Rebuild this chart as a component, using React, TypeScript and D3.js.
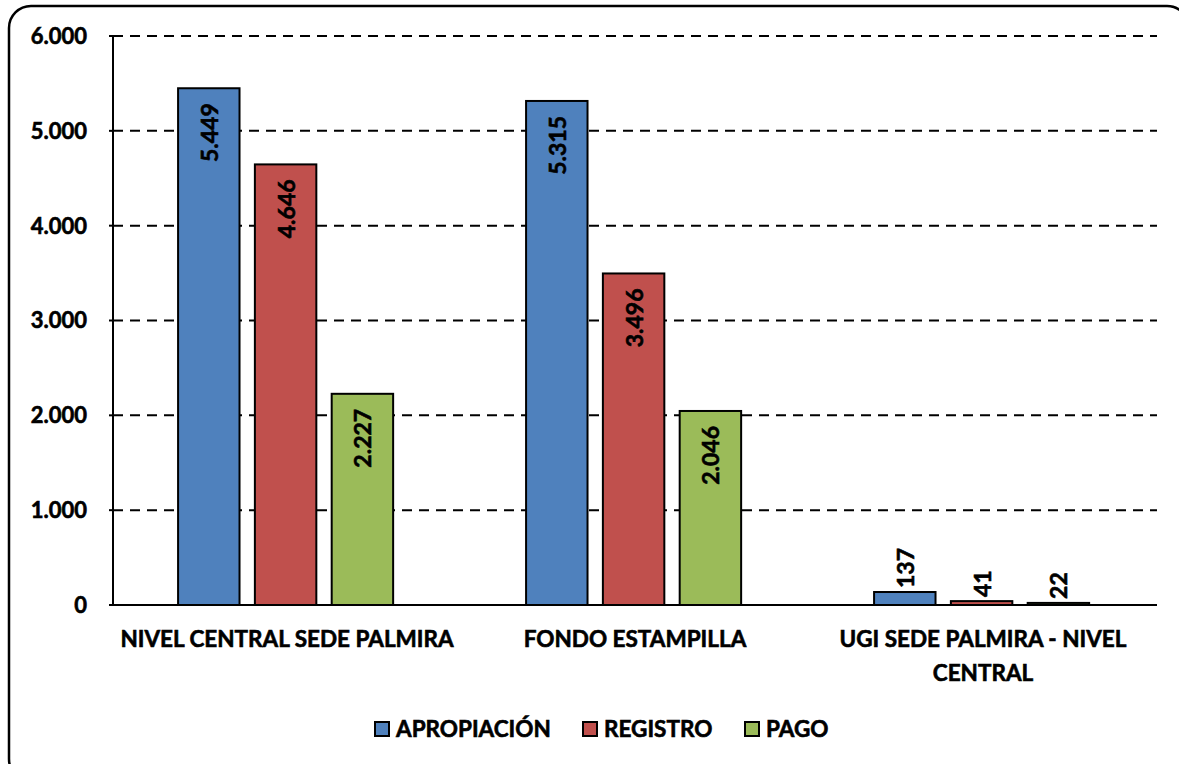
import React from "react";
import * as d3 from "d3";

const categories = ["NIVEL CENTRAL SEDE PALMIRA", "FONDO ESTAMPILLA", "UGI SEDE PALMIRA - NIVEL CENTRAL"];
const categoryLines = [["NIVEL CENTRAL SEDE PALMIRA"], ["FONDO ESTAMPILLA"], ["UGI SEDE PALMIRA - NIVEL", "CENTRAL"]];
const seriesNames = ["APROPIACIÓN", "REGISTRO", "PAGO"];
const apropiacion = [5449, 5315, 137];
const registro = [4646, 3496, 41];
const pago = [2227, 2046, 22];
const seriesValues = [apropiacion, registro, pago];
const seriesColors = ["#4F81BD", "#C0504D", "#9BBB59"];
const yTicks = [0, 1000, 2000, 3000, 4000, 5000, 6000];

const W = 1179;
const H = 764;
const left = 113;
const right = 1157;
const top = 36;
const bottom = 605;
const FONT = "Lato, 'Open Sans', sans-serif";
const FW = 700;
const TS = 0.6;

const fmt = (v: number) => d3.format(",")(v).replace(/,/g, ".");

export default function App() {
  const y = d3.scaleLinear().domain([0, 6000]).range([bottom, top]);
  const x0 = d3.scaleBand<string>().domain(categories).range([left, right]).paddingInner(0).paddingOuter(0);
  const bw = x0.bandwidth();
  const x1 = d3
    .scaleBand<string>()
    .domain(seriesNames)
    .range([bw * 0.187, bw * 0.805])
    .paddingInner(0.2)
    .paddingOuter(0);

  const legendX = [375, 583, 745];

  return (
    <svg
      width={W}
      height={H}
      style={{ position: "fixed", left: 0, top: 0, background: "#fff" }}
      fontFamily={FONT}
    >
      <rect x={0} y={0} width={W} height={H} fill="#fff" />
      <rect x={9} y={6} width={1180} height={775} rx={22} ry={22} fill="#fff" stroke="#000" strokeWidth={2.5} />

      {/* gridlines */}
      {yTicks.filter((t) => t > 0).map((t) => (
        <line key={t} x1={left} x2={right} y1={y(t)} y2={y(t)} stroke="#000" strokeWidth={2} strokeDasharray="10,7" />
      ))}
      {/* y ticks & labels */}
      {yTicks.map((t) => (
        <g key={"t" + t}>
          <line x1={left - 4} x2={left} y1={y(t)} y2={y(t)} stroke="#000" strokeWidth={2} />
          <text x={87} y={y(t)} dy="0.36em" textAnchor="end" fontWeight={FW} fontSize={22} fill="#000" stroke="#000" strokeWidth={TS}>
            {fmt(t)}
          </text>
        </g>
      ))}

      {/* bars */}
      {categories.map((c, ci) => (
        <g key={c} transform={`translate(${x0(c)},0)`}>
          {seriesNames.map((s, si) => {
            const v = seriesValues[si][ci];
            const bx = x1(s)!;
            const w = x1.bandwidth();
            const yt = y(v);
            const cx = bx + w / 2;
            const inside = v > 500;
            return (
              <g key={s}>
                <rect x={bx} y={yt} width={w} height={bottom - yt} fill={seriesColors[si]} stroke="#000" strokeWidth={2} />
                <text
                  transform={`translate(${cx},${inside ? yt + 15 : yt - 4}) rotate(-90)`}
                  textAnchor={inside ? "end" : "start"}
                  dominantBaseline="central"
                  fontWeight={FW}
                  fontSize={23}
                  fill="#000"
                  stroke="#000"
                  strokeWidth={TS}
                >
                  {fmt(v)}
                </text>
              </g>
            );
          })}
        </g>
      ))}

      {/* axes */}
      <line x1={left} x2={left} y1={top} y2={bottom} stroke="#000" strokeWidth={2} />
      <line x1={left} x2={right} y1={bottom} y2={bottom} stroke="#000" strokeWidth={2} />

      {/* category labels */}
      {categories.map((c, ci) => (
        <text key={c} x={x0(c)! + bw / 2} y={647} textAnchor="middle" fontWeight={FW} fontSize={22.5} fill="#000" stroke="#000" strokeWidth={TS}>
          {categoryLines[ci].map((l, li) => (
            <tspan key={li} x={x0(c)! + bw / 2} dy={li === 0 ? 0 : 34}>
              {l}
            </tspan>
          ))}
        </text>
      ))}

      {/* legend */}
      {seriesNames.map((s, si) => (
        <g key={s} transform={`translate(${legendX[si]},${729})`}>
          <rect x={0} y={-7} width={14} height={14} fill={seriesColors[si]} stroke="#000" strokeWidth={2} />
          <text x={21} y={0} dy="0.36em" fontWeight={FW} fontSize={22.5} fill="#000" stroke="#000" strokeWidth={TS}>
            {s}
          </text>
        </g>
      ))}
    </svg>
  );
}
